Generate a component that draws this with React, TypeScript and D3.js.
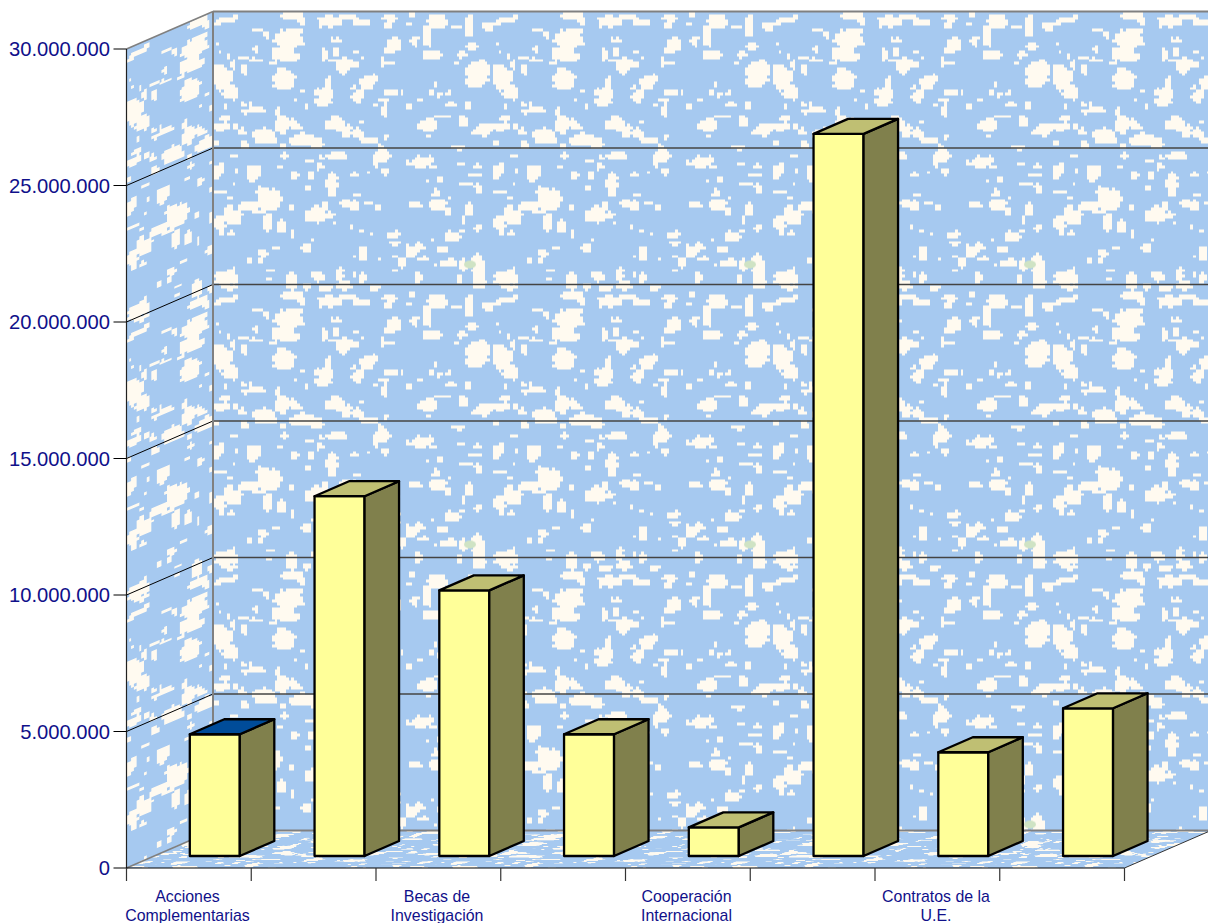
import React from "react";
import * as d3 from "d3";

// ---------- data ----------
const categoryLabels: string[][] = [
  ["Acciones", "Complementarias"], [],
  ["Becas de", "Investigación"], [],
  ["Cooperación", "Internacional"], [],
  ["Contratos de la", "U.E."], [],
];
const categoryKeys = ["c1", "c2", "c3", "c4", "c5", "c6", "c7", "c8"];
const values = [4460000, 13180000, 9730000, 4460000, 1050000, 26450000, 3800000, 5410000];
const yTicks = [0, 5000000, 10000000, 15000000, 20000000, 25000000, 30000000];
const tickLabels = ["0", "5.000.000", "10.000.000", "15.000.000", "20.000.000", "25.000.000", "30.000.000"];

// ---------- texture blobs (wall picture), cx cy rx ry in a 420px quadrant at 3x ----------
const q1 = [[35,28,30,8],[15,35,12,10],[70,15,8,8],[240,12,30,12],[220,5,12,6],[265,25,10,15],[350,30,35,18],[395,15,20,8],[225,85,42,30],[215,125,35,25],[255,60,15,8],[240,140,20,12],[135,55,12,6],[160,72,6,10],[365,85,22,4],[130,115,8,12],[130,145,18,5],[180,155,10,6],[335,130,10,18],[395,160,22,25],[370,120,4,20],[360,145,15,5],[30,200,28,35],[55,240,22,25],[10,180,10,20],[60,160,8,12],[95,175,8,15],[90,140,15,5],[45,135,6,5],[212,205,32,30],[335,245,28,15],[330,270,25,15],[345,215,5,20],[25,345,25,12],[35,320,15,8],[65,345,8,8],[130,295,25,8],[95,300,8,6],[115,285,4,12],[90,280,8,8],[205,340,18,25],[195,300,8,10],[240,335,8,15],[255,345,15,5],[150,370,30,20],[130,370,12,8],[180,385,12,6],[85,360,10,10],[370,340,30,18],[365,320,10,12],[400,360,15,20],[270,385,35,18],[240,390,10,10],[310,395,20,15],[95,400,10,12],[210,405,10,8],[10,395,8,5],[270,240,6,3],[250,268,5,3],[280,285,4,8],[40,285,5,5],[20,120,4,4],[15,97,4,3]];
const q2 = [[25,35,25,8],[5,22,8,8],[110,20,20,12],[105,40,12,10],[170,35,12,4],[175,8,15,4],[255,30,30,22],[225,75,12,28],[235,130,25,12],[215,50,8,10],[120,100,20,20],[105,115,10,10],[185,88,12,14],[310,47,20,4],[350,40,12,35],[405,45,14,14],[360,105,18,10],[330,130,14,8],[310,158,6,4],[375,185,35,35],[355,205,15,20],[390,160,12,12],[88,150,6,14],[110,155,18,3],[10,122,6,4],[8,160,10,8],[30,140,6,5],[45,210,25,15],[40,230,15,6],[60,195,12,5],[15,255,18,20],[2,230,6,8],[115,243,22,8],[90,265,18,6],[95,295,8,20],[65,280,8,6],[148,243,6,4],[205,268,18,3],[170,288,8,8],[235,245,6,10],[258,250,8,8],[290,247,8,8],[245,218,6,6],[210,203,3,5],[295,280,15,8],[265,315,25,4],[345,282,10,12],[225,340,28,18],[205,345,12,10],[228,375,8,6],[330,330,10,18],[395,355,25,18],[365,363,8,6],[15,365,15,15],[50,385,30,8],[100,375,4,10],[85,410,12,10],[25,333,6,4],[320,410,20,6]];
const q3 = [[60,12,10,4],[215,15,8,12],[200,45,8,6],[325,18,8,5],[375,15,30,12],[20,55,15,18],[8,75,6,8],[120,65,20,25],[70,62,4,8],[62,95,6,4],[245,70,10,12],[295,70,8,15],[320,45,12,8],[290,30,12,4],[285,110,8,6],[358,100,18,32],[358,70,4,8],[400,155,15,10],[20,122,18,5],[50,138,5,3],[168,145,35,32],[140,120,8,15],[105,165,30,12],[60,195,25,22],[20,215,18,20],[50,170,15,5],[25,240,8,10],[55,245,8,5],[165,210,12,30],[205,225,12,20],[140,180,20,5],[310,190,30,25],[350,190,15,8],[335,165,10,10],[240,250,5,10],[235,170,5,10],[280,290,14,10],[150,305,12,10],[110,330,8,8],[140,330,8,8],[188,292,8,4],[40,380,32,22],[60,360,8,12],[50,408,20,8],[170,358,10,2],[170,382,8,3],[235,390,18,25],[315,375,18,15],[380,365,10,20],[395,400,20,15],[340,410,20,8],[280,405,15,10],[300,268,4,3],[415,225,4,8],[365,215,5,4]];
const q4 = [[85,15,25,15],[70,35,8,12],[97,60,12,10],[45,62,5,5],[5,68,8,6],[205,30,30,15],[165,35,8,6],[235,20,6,10],[240,45,12,4],[320,40,12,4],[375,45,12,6],[365,72,18,5],[340,95,20,5],[375,110,8,15],[225,92,18,3],[262,85,10,8],[250,125,10,12],[255,160,25,15],[285,180,10,12],[290,135,6,4],[15,130,15,4],[5,160,12,15],[45,155,12,5],[75,168,10,8],[185,162,20,8],[348,175,12,22],[332,205,6,8],[375,230,12,8],[120,250,22,10],[125,275,15,8],[25,240,5,3],[55,248,6,3],[300,255,20,15],[325,243,8,4],[200,285,12,14],[175,300,15,20],[210,322,15,6],[240,265,6,3],[30,310,14,20],[5,312,5,3],[148,335,12,15],[125,312,6,4],[80,322,6,3],[270,295,15,6],[285,335,25,12],[330,340,10,18],[375,340,18,30],[380,385,18,25],[320,385,10,12],[30,380,10,15],[5,370,4,8],[195,380,12,15],[125,358,8,3],[65,410,18,8],[250,340,3,4]];

const TILE = 280;
const CELL = 2.8;
const GROW = 1.05;
const blobs: number[][] = [];
[[q1, 0, 0], [q2, 140, 0], [q3, 0, 140], [q4, 140, 140]].forEach(([q, ox, oy]: any) => {
  q.forEach((b: number[]) => blobs.push([ox + b[0] / 3, oy + b[1] / 3, (b[2] / 3) * GROW + 0.3, (b[3] / 3) * GROW + 0.3]));
});
// fixed cell hash, only used to roughen blob outlines of the wall picture
const rough = (i: number, j: number) => {
  const s = Math.sin(i * 12.9898 + j * 78.233) * 43758.5453;
  return s - Math.floor(s);
};
function tilePath(): string {
  let d = "";
  const n = Math.round(TILE / CELL);
  for (let j = 0; j < n; j++) {
    for (let i = 0; i < n; i++) {
      const x = (i + 0.5) * CELL, y = (j + 0.5) * CELL;
      const limit = 0.7 + 0.6 * rough(i, j);
      const hit = blobs.some(([cx, cy, rx, ry]) => {
        const ex = (x - cx) / rx, ey = (y - cy) / ry;
        return ex * ex + ey * ey <= limit;
      });
      if (hit) d += `M${(i * CELL).toFixed(1)} ${(j * CELL).toFixed(1)}h${CELL}v${CELL}h-${CELL}z`;
    }
  }
  return d;
}
const TILE_D = tilePath();

// ---------- layout ----------
const X0 = 126.5, X1 = 1124.5;
const Y0 = 868, Y1 = 49;
const DX = 86.5, DY = -37.5;
const BDX = 34.5, BDY = -15;
const BAR_BASE_LIFT = 12;
const BAR_W = 50;
const BAR_OFFSET = 63.3;

const y = d3.scaleLinear().domain([0, 30000000]).range([Y0, Y1]);
const x = d3.scaleBand<string>().domain(categoryKeys).range([X0, X1]);

const NAVY = "#10108a";
const FONT = "'Liberation Sans', Arial, sans-serif";
const GREY = "#808080";

function Texture({ id, transform }: { id: string; transform: string }) {
  return (
    <pattern id={id} patternUnits="userSpaceOnUse" width={TILE} height={TILE} patternTransform={transform}>
      <rect width={TILE} height={TILE} fill="#a6c9f0" />
      <path d={TILE_D} fill="#fffaf0" shapeRendering="crispEdges" />
      <ellipse cx={257} cy={253} rx={6} ry={4} fill="#cfe3c4" />
    </pattern>
  );
}

export default function App() {
  const poly = d3.line();
  return (
    <svg width={1208} height={923} style={{ position: "fixed", left: 0, top: 0, background: "#fff" }} fontFamily={FONT}>
      <defs>
        <Texture id="wall" transform={`translate(${X0 + DX},${Y1 + DY})`} />
        <Texture id="side" transform={`matrix(0.9,-0.383,0,1,${X0},${Y1})`} />
        <Texture id="floor" transform={`matrix(1,0,-0.46,0.2,${X0 + DX},${Y0 + DY})`} />
      </defs>

      {/* walls */}
      <rect x={X0 + DX} y={Y1 + DY} width={1208 - X0 - DX + 10} height={Y0 - Y1} fill="url(#wall)" />
      <path d={poly([[X0, Y1], [X0 + DX, Y1 + DY], [X0 + DX, Y0 + DY], [X0, Y0]]) + "z"} fill="url(#side)" />
      <path d={poly([[X0, Y0], [X0 + DX, Y0 + DY], [X1 + DX, Y0 + DY], [X1, Y0]]) + "z"} fill="url(#floor)" />

      {/* gridlines */}
      {yTicks.slice(1, -1).map((t) => (
        <g key={t}>
          <line x1={X0 + DX} x2={1208} y1={y(t) + DY} y2={y(t) + DY} stroke="#444" strokeWidth={1.3} />
          <line x1={X0} x2={X0 + DX} y1={y(t)} y2={y(t) + DY} stroke="#000" strokeWidth={1} />
        </g>
      ))}
      {/* wall borders */}
      <line x1={X0 + DX} x2={1208} y1={Y1 + DY} y2={Y1 + DY} stroke={GREY} strokeWidth={2} />
      <line x1={X0 + DX} x2={X0 + DX} y1={Y1 + DY} y2={Y0 + DY} stroke={GREY} strokeWidth={2} />
      <line x1={X0 + DX} x2={1208} y1={Y0 + DY} y2={Y0 + DY} stroke={GREY} strokeWidth={2} />
      <line x1={X0} x2={X0 + DX} y1={Y1} y2={Y1 + DY} stroke={GREY} strokeWidth={1.6} />
      <line x1={X0} x2={X0 + DX} y1={Y0} y2={Y0 + DY} stroke={GREY} strokeWidth={1.6} />
      <line x1={X1} x2={X1 + DX} y1={Y0} y2={Y0 + DY} stroke="#333" strokeWidth={1} />

      {/* bars */}
      {values.map((v, i) => {
        const bx = x(categoryKeys[i])! + BAR_OFFSET;
        const base = Y0 - BAR_BASE_LIFT;
        const top = y(v) - BAR_BASE_LIFT;
        const r = bx + BAR_W;
        return (
          <g key={i} stroke="#000" strokeWidth={2.3} strokeLinejoin="round">
            <rect x={bx} y={top} width={BAR_W} height={base - top} fill="#ffff99" />
            <path d={poly([[r, top], [r + BDX, top + BDY], [r + BDX, base + BDY], [r, base]]) + "z"} fill="#80804c" />
            <path d={poly([[bx, top], [bx + BDX, top + BDY], [r + BDX, top + BDY], [r, top]]) + "z"} fill={i === 0 ? "#004c99" : "#bfbf73"} />
          </g>
        );
      })}

      {/* axes */}
      <line x1={X0} x2={X0} y1={Y1} y2={Y0} stroke="#222" strokeWidth={1.2} />
      <line x1={X0} x2={X1} y1={Y0} y2={Y0} stroke="#000" strokeWidth={1.2} />
      {yTicks.map((t, i) => (
        <g key={t}>
          <line x1={X0 - 13} x2={X0} y1={y(t)} y2={y(t)} stroke="#000" strokeWidth={1} />
          <text x={110} y={y(t) + 7} textAnchor="end" fontSize={20.2} fill={NAVY}>{tickLabels[i]}</text>
        </g>
      ))}
      {[...categoryKeys.map((k) => x(k)!), X1].map((tx, i) => (
        <line key={i} x1={tx} x2={tx} y1={Y0} y2={Y0 + 13} stroke="#333" strokeWidth={1.2} />
      ))}
      {categoryLabels.map((lines, i) =>
        lines.map((l, j) => (
          <text key={l} x={x(categoryKeys[i])! + 61} y={901.5 + j * 19.5} textAnchor="middle" fontSize={15.9} fill={NAVY}>{l}</text>
        ))
      )}
    </svg>
  );
}
